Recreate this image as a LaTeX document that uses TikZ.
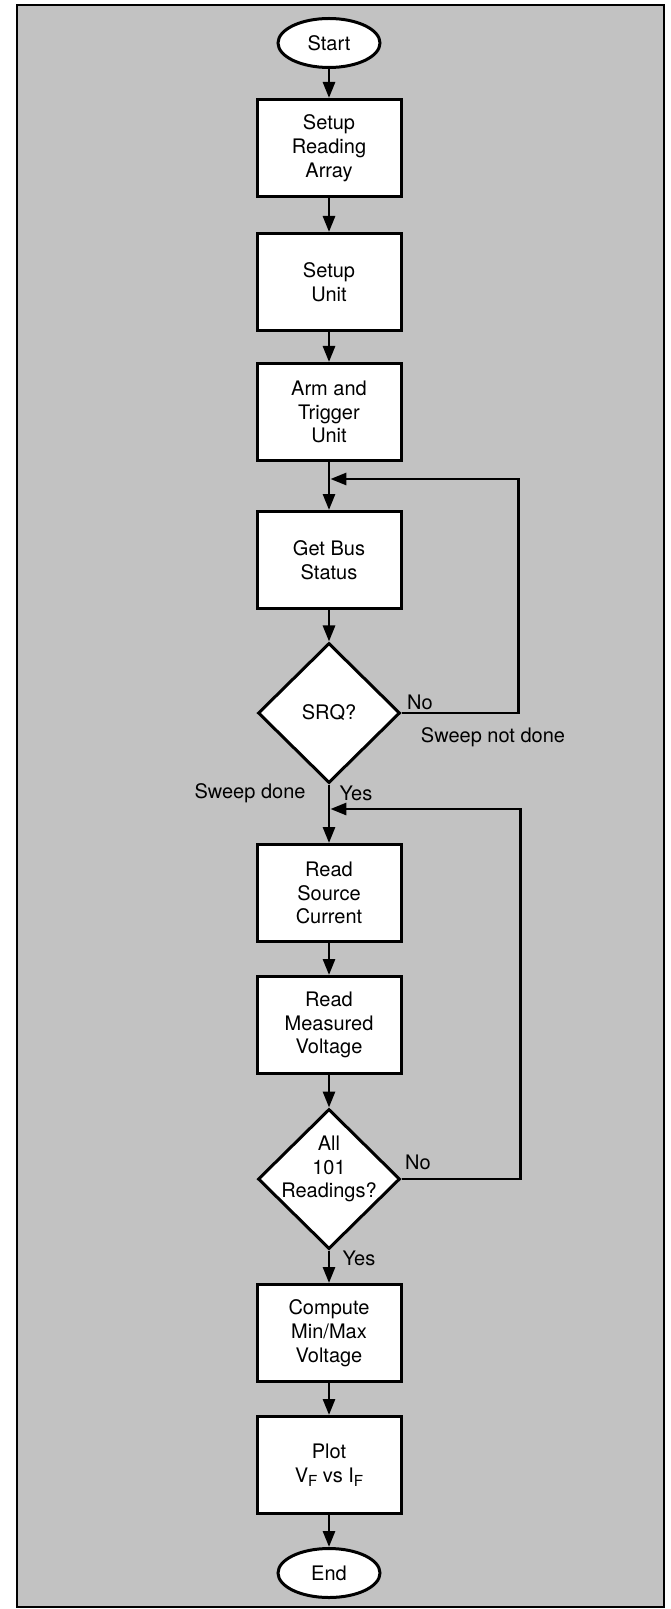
\documentclass[tikz,border=0pt]{standalone}
\usepackage{fontspec}
\setmainfont{TeX Gyre Heros}
\usetikzlibrary{shapes.geometric,arrows.meta}

\newcommand{\lowsub}[1]{\raisebox{-0.4ex}{\fontsize{7.6}{8}\selectfont #1}}

\begin{document}
\begin{tikzpicture}[x=0.5pt,y=-0.5pt,
  font=\fontsize{10}{11.9}\selectfont,
  block/.style={draw,rectangle,fill=white,line width=1.5pt,minimum width=72pt,minimum height=48.5pt,align=center,inner sep=2pt},
  terminal/.style={draw,ellipse,fill=white,line width=1.5pt,minimum width=51pt,minimum height=24.5pt,inner sep=0pt},
  decision/.style={draw,diamond,fill=white,line width=1.5pt,minimum width=71pt,minimum height=70pt,inner sep=0pt},
  flow/.style={line width=1.4pt,-{Triangle[length=8pt,width=6pt]}}]

\useasboundingbox (0,0) rectangle (670,1609);
\draw[fill=black!24,line width=1.2pt] (17,5) rectangle (664,1607);

\node[terminal] (start) at (329,43) {Start};
\node[block] (readarray) at (329,148) {Setup\\Reading\\Array};
\node[block] (setunit) at (329,282) {Setup\\Unit};
\node[block] (armunit) at (329,412) {Arm and\\Trigger\\Unit};
\node[block] (busstat) at (329,560) {Get Bus\\Status};
\node[decision] (srq) at (329,713) {SRQ?};
\node[block] (readcur) at (329,893) {Read\\Source\\Current};
\node[block] (readvolt) at (329,1025) {Read\\Measured\\Voltage};
\node[decision] (allread) at (329,1179) {};
\node[align=center] (allreadtext) at (329,1169) {All\\101\\Readings?};
\node[block] (minmax) at (329,1333) {Compute\\Min/Max\\Voltage};
\node[block] (plotvf) at (329,1465) {Plot\\V\lowsub{F} vs I\lowsub{F}};
\node[terminal] (stop) at (329,1573) {End};

\coordinate (join1) at (329,479);
\coordinate (join2) at (329,809);

\draw[flow] (start) -- (readarray);
\draw[flow] (readarray) -- (setunit);
\draw[flow] (setunit) -- (armunit);
\draw[flow] (armunit) -- (busstat);
\draw[flow] (busstat) -- (srq);
\draw[flow] (srq) -- (readcur);
\draw[flow] (readcur) -- (readvolt);
\draw[flow] (readvolt) -- (allread);
\draw[flow] (allread) -- (minmax);
\draw[flow] (minmax) -- (plotvf);
\draw[flow] (plotvf) -- (stop);

% loops back
\draw[flow,shorten >=0.7pt] (srq.east) -- ++(117,0) |- (join1);
\draw[flow,shorten >=0.7pt] (allread.east) -- ++(119,0) |- (join2);

\node (srqno) at (420,702) {No};
\node (notdone) at (493,737) {Sweep not done};
\node (done) at (250,793) {Sweep done};
\node (srqyes) at (356,793) {Yes};
\node (allno) at (418,1162) {No};
\node (allyes) at (359,1258) {Yes};

\end{tikzpicture}
\end{document}
